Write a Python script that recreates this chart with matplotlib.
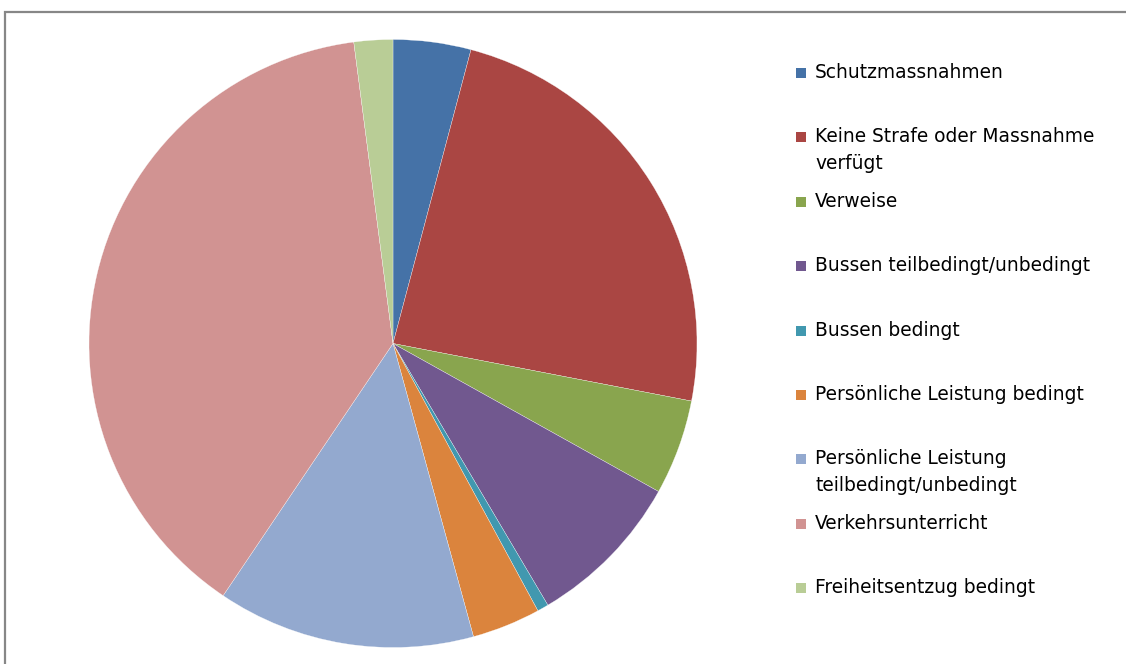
import matplotlib
matplotlib.use("Agg")
import matplotlib.pyplot as plt
from matplotlib.patches import Rectangle

categories = [
    "Schutzmassnahmen",
    "Keine Strafe oder Massnahme\nverfügt",
    "Verweise",
    "Bussen teilbedingt/unbedingt",
    "Bussen bedingt",
    "Persönliche Leistung bedingt",
    "Persönliche Leistung\nteilbedingt/unbedingt",
    "Verkehrsunterricht",
    "Freiheitsentzug bedingt",
]
values = [4.13, 23.9, 5.06, 8.4, 0.6, 3.64, 13.7, 38.5, 2.06]
colors = ["#4572A7", "#AA4643", "#89A54E", "#71588F", "#4198AF",
          "#DB843D", "#93A9CF", "#D19392", "#B9CD96"]

W, H = 1126, 664
fig = plt.figure(figsize=(W / 100, H / 100), dpi=100)
fig.patch.set_facecolor("white")

# outer chart border (extends past right/bottom edges)
fig.patches.append(Rectangle((5 / W, -0.1), 1.2, (H - 12) / H + 0.1,
                             transform=fig.transFigure, fill=False,
                             edgecolor="#878787", linewidth=1.6))

cx, cy, r = 393, 343.5, 304
ax = fig.add_axes([(cx - r) / W, (H - cy - r) / H, 2 * r / W, 2 * r / H])
ax.pie(values, colors=colors, startangle=90, counterclock=False, radius=1,
       wedgeprops=dict(edgecolor="white", linewidth=0.2))
ax.set_xlim(-1, 1)
ax.set_ylim(-1, 1)
ax.set_aspect("auto")
ax.axis("off")

# legend (manual, Excel-style)
slot_top = 73.0
slot = 64.4
for i, (lab, col) in enumerate(zip(categories, colors)):
    y = slot_top + i * slot
    fig.patches.append(Rectangle((796 / W, (H - y - 5) / H), 10 / W, 10 / H,
                                 transform=fig.transFigure, facecolor=col,
                                 edgecolor="none"))
    for j, line in enumerate(lab.split("\n")):
        fig.text(815 / W, (H - (y + 5) - j * 26.5) / H, line, ha="left",
                 va="baseline", fontsize=13.4,
                 family=["DejaVu Sans"], color="black")

fig.savefig("out.png", dpi=100)
